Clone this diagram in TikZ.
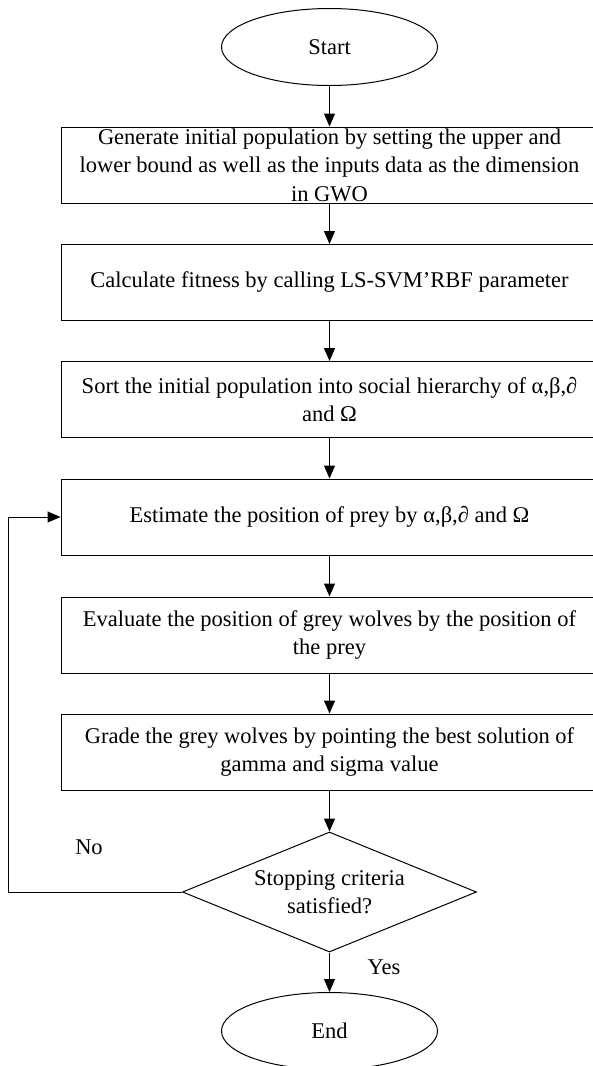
\documentclass[tikz,border=0pt]{standalone}
\usepackage{fontspec}
\setmainfont{Liberation Serif}
\usetikzlibrary{shapes.geometric,arrows.meta}
\tikzset{
  base/.style={draw=black, line width=1pt, inner sep=0pt, align=center,
    font=\fontsize{22.5}{28.5}\selectfont},
  procbox/.style={base, rectangle, minimum width=537pt, minimum height=76pt},
  terminal/.style={base, ellipse, minimum width=216pt, minimum height=77pt},
  decision/.style={base, diamond, aspect=2.45, minimum width=294pt, minimum height=120pt},
  lbl/.style={inner sep=0pt, font=\fontsize{22.5}{28.5}\selectfont},
  flow/.style={draw=black, line width=1pt, -{Triangle[length=13pt,width=11pt]}}
}
\begin{document}
\begin{tikzpicture}[x=1pt,y=-1pt]
\clip (0,0) rectangle (593,1066);
\fill[white] (0,0) rectangle (593,1066);
\node[terminal] (start) at (329.5,47) {Start};
\node[procbox] (b1) at (329.5,165) {Generate initial population by setting the upper and\\lower bound as well as the inputs data as the dimension\\in GWO};
\node[procbox] (b2) at (329.5,282.5) {Calculate fitness by calling LS-SVM’RBF parameter};
\node[procbox] (b3) at (329.5,399.5) {Sort the initial population into social hierarchy of α,β,∂\\and Ω};
\node[procbox] (b4) at (329.5,517) {Estimate the position of prey by α,β,∂ and Ω};
\node[procbox] (b5) at (329.5,635) {Evaluate the position of grey wolves by the position of\\the prey};
\node[procbox] (b6) at (329.5,752) {Grade the grey wolves by pointing the best solution of\\gamma and sigma value};
\node[decision] (dec) at (329.5,892) {Stopping criteria\\satisfied?};
\node[terminal] (end) at (329.5,1031) {End};
\coordinate (lb) at (8.5,892);
\coordinate (lt) at (8.5,517);
\node[lbl] (no) at (89,847) {No};
\node[lbl] (yes) at (384,967) {Yes};
\draw[flow] (start) -- (b1);
\draw[flow] (b1) -- (b2);
\draw[flow] (b2) -- (b3);
\draw[flow] (b3) -- (b4);
\draw[flow] (b4) -- (b5);
\draw[flow] (b5) -- (b6);
\draw[flow] (b6) -- (dec);
\draw[flow] (dec) -- (end);
\draw[flow] (dec.west) -- (lb) -- (lt) -- (b4.west);
\end{tikzpicture}
\end{document}
